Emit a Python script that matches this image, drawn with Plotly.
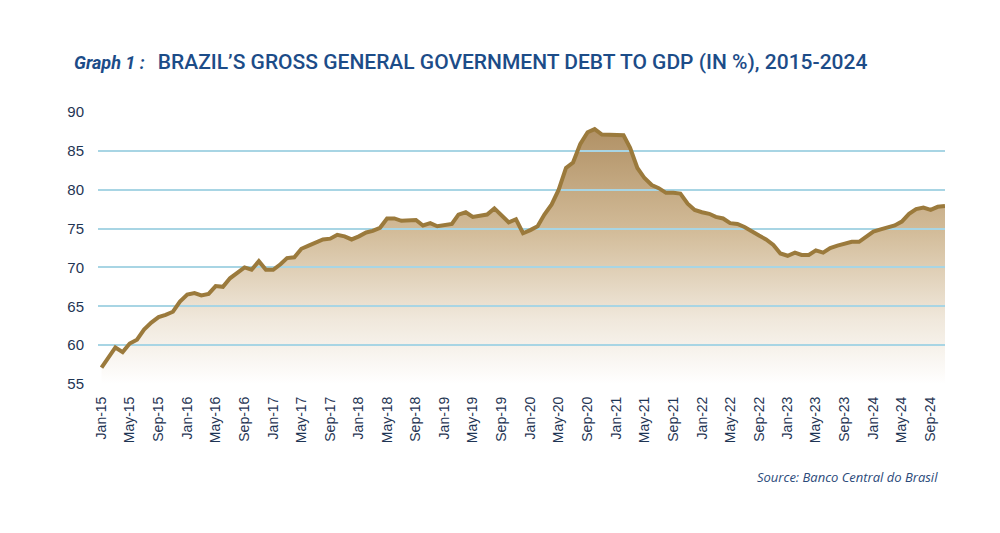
import pandas as pd
import plotly.graph_objects as go

# Monthly dates Jan-2015 .. Nov-2024
months = pd.date_range("2015-01-01", periods=119, freq="MS")

debt_gdp = [
    57.1, 58.4, 59.7, 59.1, 60.2, 60.7, 62.0, 62.9, 63.6, 63.9, 64.3, 65.6,   # 2015
    66.5, 66.7, 66.4, 66.6, 67.6, 67.5, 68.6, 69.3, 70.0, 69.7, 70.8, 69.7,   # 2016
    69.7, 70.4, 71.2, 71.3, 72.4, 72.8, 73.2, 73.6, 73.7, 74.2, 74.0, 73.6,   # 2017
    74.0, 74.5, 74.7, 75.1, 76.3, 76.3, 76.0, 76.1, 76.1, 75.4, 75.7, 75.3,   # 2018
    75.5, 75.6, 76.8, 77.1, 76.5, 76.6, 76.8, 77.6, 76.7, 75.8, 76.2, 74.4,   # 2019
    74.8, 75.3, 76.8, 78.1, 80.0, 82.8, 83.5, 85.9, 87.4, 87.8, 87.1, 87.1,   # 2020
    87.0, 87.0, 85.4, 82.8, 81.5, 80.6, 80.2, 79.6, 79.6, 79.5, 78.2, 77.4,   # 2021
    77.1, 76.9, 76.5, 76.3, 75.7, 75.6, 75.2, 74.6, 74.1, 73.6, 72.9, 71.8,   # 2022
    71.5, 71.9, 71.6, 71.6, 72.2, 71.9, 72.5, 72.8, 73.0, 73.3, 73.3, 73.9,   # 2023
    74.6, 74.9, 75.1, 75.4, 75.9, 76.9, 77.5, 77.7, 77.4, 77.8, 77.9,         # 2024
]

y_ticks = [55, 60, 65, 70, 75, 80, 85, 90]

title_prefix = "Graph 1 :"
title_main = "BRAZIL\u2019S GROSS GENERAL GOVERNMENT DEBT TO GDP (IN %), 2015-2024"
source_text = "Source: Banco Central do Brasil"

LINE = "#9B7A3C"
GRID = "#A8D5E4"
NAVY = "#1F3554"
TITLE_BLUE = "#1C4C88"

x_range = ["2014-12-17", "2024-11-01"]
y_range = [55, 90]

fig = go.Figure()

# Filled area (bottom subplot, no grid)
fig.add_trace(go.Scatter(
    x=months, y=debt_gdp, mode="lines", line=dict(width=0, color=LINE),
    fill="tozeroy",
    fillgradient=dict(type="vertical", start=55, stop=88,
                      colorscale=[[0, "#FFFFFF"], [0.25, "#F0E8DC"],
                                  [0.6, "#D2BB98"], [1, "#B09064"]]),
    hoverinfo="skip", showlegend=False, xaxis="x", yaxis="y",
))

# Line on top subplot that carries the gridlines (drawn above the fill)
fig.add_trace(go.Scatter(
    x=months, y=debt_gdp, mode="lines",
    line=dict(width=4, color=LINE, shape="linear"),
    showlegend=False, xaxis="x2", yaxis="y2",
))

fig.update_layout(
    width=1000, height=533,
    margin=dict(l=98, r=55, t=112, b=149),
    paper_bgcolor="white", plot_bgcolor="rgba(0,0,0,0)",
    xaxis=dict(domain=[0, 1], range=x_range, type="date", visible=False,
               showgrid=False),
    yaxis=dict(domain=[0, 1], range=y_range, visible=False, showgrid=False),
    xaxis2=dict(domain=[0, 1], range=x_range, type="date", anchor="y2",
                tick0="2015-01-01", dtick="M4", tickformat="%b-%y",
                tickangle=-90, showgrid=False, showline=False,
                ticks="outside", ticklen=6, tickcolor="rgba(0,0,0,0)",
                tickfont=dict(family="Liberation Sans, Arial", size=14, color=NAVY)),
    yaxis2=dict(domain=[0, 1], range=y_range, anchor="x2",
                tickvals=y_ticks, showgrid=True, gridcolor=GRID, gridwidth=1.5,
                zeroline=False, showline=False,
                ticks="outside", ticklen=10, tickcolor="rgba(0,0,0,0)",
                tickfont=dict(family="Liberation Sans, Arial", size=15, color=NAVY)),
)

fig.add_annotation(
    xref="paper", yref="paper", x=-0.031, y=1.185, xanchor="left", yanchor="middle",
    showarrow=False,
    text=(f"<b><i><span style='font-size:18px'>{title_prefix}</span></i></b>"
          f"<span style='font-size:10px'> </span>  {title_main}"),
    font=dict(family="Roboto", size=21, weight=500, color=TITLE_BLUE),
)

fig.add_annotation(
    xref="paper", yref="paper", x=0.994, y=-0.342, xanchor="right", yanchor="middle",
    showarrow=False, text=f"<i>{source_text}</i>",
    font=dict(family="Open Sans, Lato", size=13, color="#2B4A7A"),
)

fig.write_html("out.html")
